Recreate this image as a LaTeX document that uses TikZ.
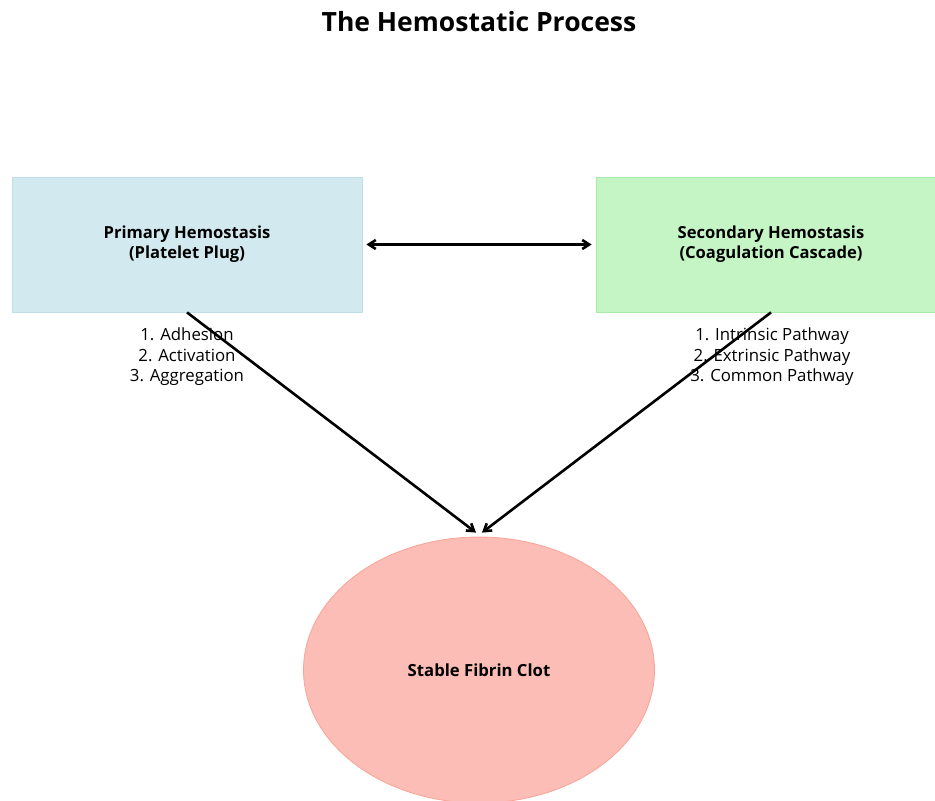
\documentclass[tikz,border=0pt]{standalone}
\usepackage{fontspec}
\setmainfont{Open Sans}
\usepackage{xcolor}
\usetikzlibrary{arrows.meta,shapes.geometric}
\definecolor{plugblue}{HTML}{D3E9F0}
\definecolor{plugedge}{HTML}{BEDEE8}
\definecolor{cascgreen}{HTML}{C5F5C5}
\definecolor{cascedge}{HTML}{A8EBA8}
\definecolor{clotred}{HTML}{FBBDB5}
\definecolor{clotedge}{HTML}{F8A498}
\tikzset{
  phase/.style={draw, line width=0.8pt, minimum width=350pt, minimum height=135pt, align=center, font=\fontsize{16.6}{20}\selectfont\bfseries},
  steps/.style={align=center, inner sep=0pt, font=\fontsize{16.8}{20.5}\selectfont},
  outcome/.style={ellipse, draw=clotedge, fill=clotred, line width=0.8pt, minimum width=351pt, minimum height=266pt, inner sep=0pt, font=\fontsize{16.7}{20}\selectfont\bfseries},
  flow/.style={-{Straight Barb[length=7pt,width=9pt]}, line width=2.6pt},
  link/.style={{Straight Barb[length=7pt,width=9pt]}-{Straight Barb[length=7pt,width=9pt]}, line width=2.6pt}
}

\begin{document}
\begin{tikzpicture}[x=1pt,y=-1pt]
  \useasboundingbox (0,0) rectangle (935,801);
  \node[font=\fontsize{26.5}{30}\selectfont\bfseries] (title) at (479,22) {The Hemostatic Process};

  \node[phase, fill=plugblue, draw=plugedge] (primary) at (187,244.5) {Primary Hemostasis\\(Platelet Plug)};
  \node[phase, fill=cascgreen, draw=cascedge] (secondary) at (771,244.5) {Secondary Hemostasis\\(Coagulation Cascade)};
  \node[outcome] (clot) at (479,670) {Stable Fibrin Clot};

  \node[steps, anchor=north] (primsteps) at (187,328) {1. Adhesion\\2. Activation\\3. Aggregation};
  \node[steps, anchor=north] (secsteps) at (772,328) {1. Intrinsic Pathway\\2. Extrinsic Pathway\\3. Common Pathway};

  \draw[link, shorten <=4pt, shorten >=4pt] (primary.east) -- (secondary.west);
  \draw[flow] (primary.south) -- ([xshift=-3pt,yshift=4pt]clot.north);
  \draw[flow] (secondary.south) -- ([xshift=3pt,yshift=4pt]clot.north);
\end{tikzpicture}
\end{document}
